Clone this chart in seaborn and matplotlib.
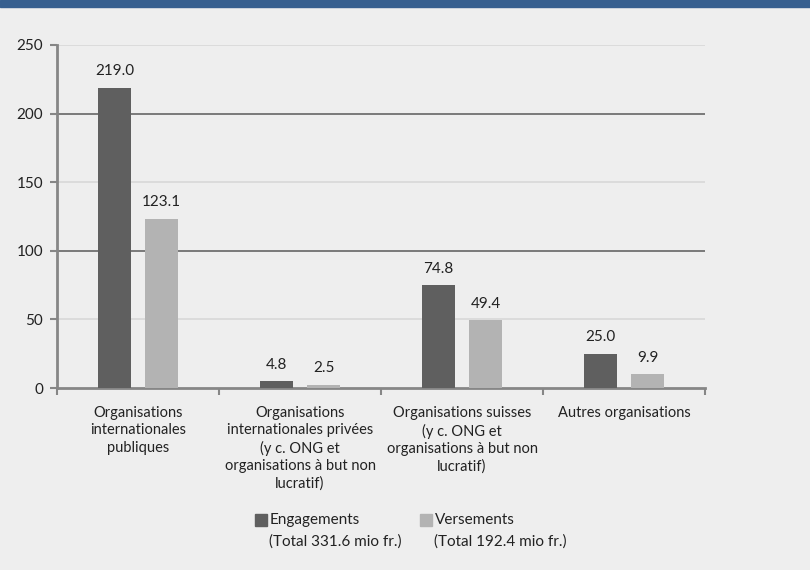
import matplotlib
matplotlib.use("Agg")
import matplotlib.pyplot as plt
import seaborn as sns
import pandas as pd
from matplotlib.patches import Rectangle

categories = [
    "Organisations\ninternationales\npubliques",
    "Organisations\ninternationales privées\n(y c. ONG et\norganisations à but non\nlucratif)",
    "Organisations suisses\n(y c. ONG et\norganisations à but non\nlucratif)",
    "Autres organisations",
]
engagements = [219.0, 4.8, 74.8, 25.0]
versements = [123.1, 2.5, 49.4, 9.9]
series_names = ["Engagements", "Versements"]
series_totals = ["(Total 331.6 mio fr.)", "(Total 192.4 mio fr.)"]
y_ticks = [0, 50, 100, 150, 200, 250]

bg = "#EEEEEE"
colors = ["#5F5F5F", "#B3B3B3"]
axis_col = "#868686"

df = pd.DataFrame({
    "cat": categories * 2,
    "serie": [series_names[0]] * 4 + [series_names[1]] * 4,
    "val": engagements + versements,
})

sns.set_theme(style="white")
plt.rcParams["font.family"] = ["Lato", "DejaVu Sans"]

fig = plt.figure(figsize=(8.1, 5.7), dpi=100, facecolor=bg)
ax = fig.add_axes([57 / 810, 1 - 388 / 570, 648 / 810, 343 / 570])
ax.set_facecolor(bg)

# blue header strip (title cut off in the reference)
fig.patches.append(Rectangle((0, 1 - 7 / 570), 1, 7 / 570, transform=fig.transFigure,
                             color="#375F8F", zorder=0))

sns.barplot(data=df, x="cat", y="val", hue="serie", palette=colors, width=0.58, gap=0.28,
            ax=ax, legend=False, zorder=3, saturation=1, linewidth=0, edgecolor="none")

# gridlines: darker at 100/200, light otherwise
for t in y_ticks[1:]:
    ax.axhline(t, color="#5A5A5A" if t % 100 == 0 else "#D6D6D6", lw=1.1, zorder=1)

for cont in ax.containers:
    ax.bar_label(cont, fmt="%.1f", padding=7, fontsize=11, color="#222222")

ax.set_ylim(0, 250)
ax.set_xlim(-0.5, 3.5)
ax.set_yticks(y_ticks)
ax.tick_params(axis="y", length=5, width=1.5, color=axis_col, labelsize=11, pad=5, left=True,
               labelcolor="#222222")
ax.set_xticks([-0.5, 0.5, 1.5, 2.5, 3.5])
ax.set_xticklabels([])
ax.set_xticks(range(len(categories)), minor=True)
ax.set_xticklabels(categories, minor=True, fontsize=10.5, va="top", linespacing=1.3,
                   color="#222222")
ax.tick_params(axis="x", which="major", length=5, width=1.5, color=axis_col, bottom=True)
ax.tick_params(axis="x", which="minor", length=0, pad=13)
ax.set_xlabel("")
ax.set_ylabel("")

for s in ["top", "right"]:
    ax.spines[s].set_visible(False)
for s in ["left", "bottom"]:
    ax.spines[s].set_color(axis_col)
    ax.spines[s].set_linewidth(2)

# legend squares + two-line labels
leg_x = [255 / 810, 420 / 810]
leg_y = 1 - 520 / 570
for i in range(2):
    fig.patches.append(Rectangle((leg_x[i], leg_y - 6 / 570), 12 / 810, 12 / 570,
                                 transform=fig.transFigure, color=colors[i]))
    fig.text(leg_x[i] + 15 / 810, leg_y, series_names[i], fontsize=11, va="center",
             color="#222222")
    fig.text(leg_x[i] + 14 / 810, leg_y - 22 / 570, series_totals[i], fontsize=11,
             va="center", color="#222222")

fig.savefig("out.png", dpi=100, facecolor=bg)
